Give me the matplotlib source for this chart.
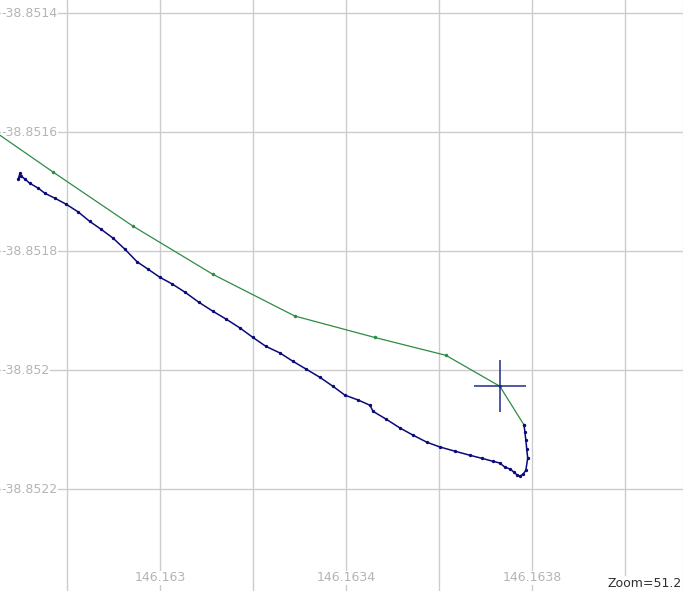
import numpy as np
import matplotlib
matplotlib.use("Agg")
import matplotlib.pyplot as plt

# green track (planned route)
green_lon = [146.162613, 146.162770, 146.162942, 146.163114, 146.163290,
             146.163462, 146.163615, 146.163731, 146.163783]
green_lat = [-38.851582, -38.851667, -38.851758, -38.851839, -38.851909,
             -38.851945, -38.851975, -38.852027, -38.852092]

# blue track (recorded points)
blue_lon = [146.162699, 146.162695, 146.162701, 146.162710, 146.162720, 146.162738,
            146.162753, 146.162774, 146.162798, 146.162824, 146.162849, 146.162873,
            146.162899, 146.162925, 146.162951, 146.162974, 146.163000, 146.163026,
            146.163054, 146.163084, 146.163114, 146.163142, 146.163172, 146.163200,
            146.163228, 146.163258, 146.163286, 146.163314, 146.163344, 146.163372,
            146.163398, 146.163426, 146.163452, 146.163458, 146.163486, 146.163516,
            146.163544, 146.163574, 146.163602, 146.163634, 146.163667, 146.163692,
            146.163716, 146.163731, 146.163742, 146.163753, 146.163761, 146.163768,
            146.163774, 146.163781, 146.163787, 146.163791, 146.163789, 146.163787,
            146.163785, 146.163783]
blue_lat = [-38.851669, -38.851679, -38.851674, -38.851679, -38.851686, -38.851694,
            -38.851703, -38.851711, -38.851721, -38.851734, -38.851750, -38.851763,
            -38.851778, -38.851797, -38.851818, -38.851830, -38.851844, -38.851855,
            -38.851869, -38.851886, -38.851901, -38.851914, -38.851929, -38.851945,
            -38.851960, -38.851971, -38.851985, -38.851998, -38.852012, -38.852027,
            -38.852042, -38.852050, -38.852059, -38.852069, -38.852082, -38.852097,
            -38.852109, -38.852121, -38.852129, -38.852136, -38.852143, -38.852148,
            -38.852153, -38.852156, -38.852163, -38.852166, -38.852171, -38.852176,
            -38.852178, -38.852175, -38.852168, -38.852148, -38.852133, -38.852118,
            -38.852104, -38.852092]

cross_lon = 146.163731
cross_lat = -38.852027

x_grid = [146.1628, 146.163, 146.1632, 146.1634, 146.1636, 146.1638, 146.164]
x_labels = {146.163: "146.163", 146.1634: "146.1634", 146.1638: "146.1638"}
y_grid = [-38.8514, -38.8516, -38.8518, -38.852, -38.8522]
y_labels = ["-38.8514", "-38.8516", "-38.8518", "-38.852", "-38.8522"]

fig = plt.figure(figsize=(6.83, 5.91), dpi=100)
ax = fig.add_axes([0, 0, 1, 1])
ax.set_xlim(146.162656, 146.164125)
ax.set_ylim(-38.852371, -38.851378)

for x in x_grid:
    ax.axvline(x, color="#cccccc", lw=1, zorder=1)
for y in y_grid:
    ax.axhline(y, color="#cccccc", lw=1, zorder=1)

ax.plot(green_lon, green_lat, color="#2e8b45", lw=0.9, marker="o", ms=1.5, zorder=3)
ax.plot(blue_lon, blue_lat, color="#0a0a78", lw=1.1, marker="o", ms=1.4, zorder=4)
ax.plot([cross_lon], [cross_lat], marker="+", ms=37, mew=1.1, color="#1e2c86", zorder=5)

for x, lab in x_labels.items():
    ax.text(x, 0.022, lab, transform=ax.get_xaxis_transform(), ha="center", va="center",
            fontsize=9, color="#b4b4b4",
            bbox=dict(facecolor="white", edgecolor="none", pad=0.5), zorder=2)
for y, lab in zip(y_grid, y_labels):
    ax.text(0.002, y, lab, transform=ax.get_yaxis_transform(), ha="left", va="center",
            fontsize=9, color="#b4b4b4",
            bbox=dict(facecolor="white", edgecolor="none", pad=0.5), zorder=2)

ax.text(0.998, 0.013, "Zoom=51.2", transform=ax.transAxes, ha="right", va="center",
        fontsize=9, color="#303030",
        bbox=dict(facecolor="white", edgecolor="none", pad=0.5), zorder=6)

ax.set_xticks([])
ax.set_yticks([])
for side in ["left", "top", "bottom"]:
    ax.spines[side].set_visible(False)
ax.spines["right"].set_color("#c8c8c8")
ax.spines["right"].set_linestyle((0, (1, 1)))

fig.savefig("out.png", dpi=100)
